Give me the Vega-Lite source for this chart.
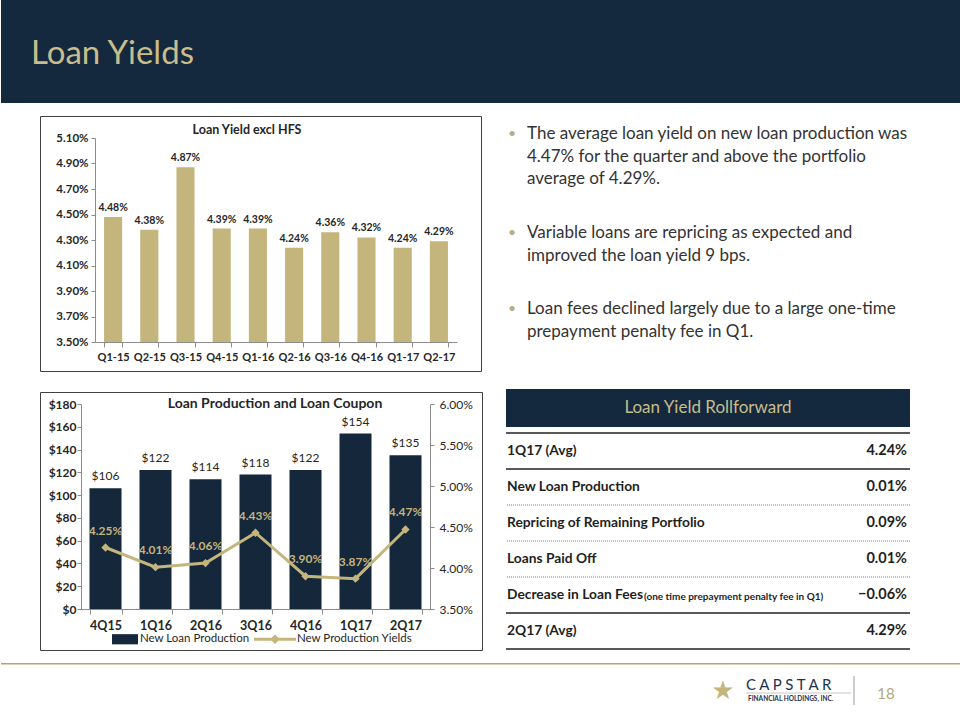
{
  "$schema": "https://vega.github.io/schema/vega-lite/v6.json",
  "padding": 0,
  "background": "#ffffff",
  "config": {"font": "Lato", "view": {"stroke": null}, "axis": {"labelOverlap": false}},
  "spacing": 12,
  "resolve": {"scale": {"color": "independent"}, "legend": {"color": "independent"}},
  "vconcat": [
    {
      "width": 960, "height": 103,
      "view": {"fill": "#14293e", "stroke": null},
      "data": {"values": [{"t": "Loan Yields"}]},
      "mark": {"type": "text", "align": "left", "baseline": "alphabetic", "fontSize": 33, "color": "#c9bd8c"},
      "encoding": {"text": {"field": "t", "type": "nominal"}, "x": {"value": 30}, "y": {"value": 64}}
    },
    {
      "spacing": 22,
      "resolve": {"scale": {"color": "independent"}, "legend": {"color": "independent"}},
      "hconcat": [
        {
          "width": 16, "height": 1,
          "data": {"values": []},
          "mark": "point",
          "encoding": {}
        },
        {
          "spacing": 19,
          "resolve": {"scale": {"color": "independent"}, "legend": {"color": "independent"}},
          "vconcat": [
            {
              "width": 441, "height": 255,
              "view": {"stroke": "#404040", "strokeWidth": 1},
              "layer": [
                {
                  "data": {"values": [{"t": "Loan Yield excl HFS"}]},
                  "mark": {"type": "text", "fontSize": 12.5, "fontWeight": "bold", "color": "#262626", "align": "center", "baseline": "middle"},
                  "encoding": {"text": {"field": "t", "type": "nominal"}, "x": {"value": 207}, "y": {"value": 14}}
                },
                {
                  "data": {"values": [
                    {"q": "Q1-15", "v": 0.0448}, {"q": "Q2-15", "v": 0.0438}, {"q": "Q3-15", "v": 0.0487},
                    {"q": "Q4-15", "v": 0.0439}, {"q": "Q1-16", "v": 0.0439}, {"q": "Q2-16", "v": 0.0424},
                    {"q": "Q3-16", "v": 0.0436}, {"q": "Q4-16", "v": 0.0432}, {"q": "Q1-17", "v": 0.0424},
                    {"q": "Q2-17", "v": 0.0429}
                  ]},
                  "encoding": {
                    "x": {"field": "q", "type": "nominal", "sort": null,
                      "scale": {"range": [55, 417], "paddingInner": 0.5, "paddingOuter": 0.25},
                      "axis": {"orient": "bottom", "offset": -29, "title": null, "labelAngle": 0, "labelFontWeight": "bold", "labelFontSize": 11, "labelColor": "#262626", "domainColor": "#8c8c8c", "tickColor": "#8c8c8c", "tickSize": 5, "tickBand": "extent", "labelPadding": 4, "labelOverlap": false}},
                    "y": {"field": "v", "type": "quantitative",
                      "scale": {"domain": [0.035, 0.051], "range": [226, 22], "zero": false, "nice": false},
                      "axis": {"orient": "left", "offset": -55, "title": null, "grid": false, "values": [0.035, 0.037, 0.039, 0.041, 0.043, 0.045, 0.047, 0.049, 0.051], "format": ".2%", "labelFontWeight": "bold", "labelFontSize": 11.5, "labelColor": "#262626", "domainColor": "#8c8c8c", "tickColor": "#8c8c8c", "tickSize": 4, "labelPadding": 3, "labelFlush": false, "labelOverlap": false}}
                  },
                  "layer": [
                    {
                      "mark": {"type": "bar", "color": "#c4b57d"},
                      "encoding": {"y2": {"datum": 0.035}}
                    },
                    {
                      "mark": {"type": "text", "baseline": "bottom", "dy": -4, "fontWeight": "bold", "fontSize": 10.5, "color": "#262626"},
                      "encoding": {"text": {"field": "v", "type": "quantitative", "format": ".2%"}}
                    }
                  ]
                }
              ]
            },
            {
              "width": 442, "height": 258,
              "view": {"stroke": "#404040", "strokeWidth": 1},
              "layer": [
                {
                  "data": {"values": [{"t": "Loan Production and Loan Coupon"}]},
                  "mark": {"type": "text", "fontSize": 14, "fontWeight": "bold", "color": "#262626", "align": "center", "baseline": "middle"},
                  "encoding": {"text": {"field": "t", "type": "nominal"}, "x": {"value": 235}, "y": {"value": 12}}
                },
                {
                  "data": {"name": "prod"},
                  "encoding": {
                    "x": {"field": "q", "type": "nominal", "sort": null,
                      "scale": {"range": [41, 390], "paddingInner": 0.36, "paddingOuter": 0.17},
                      "axis": {"orient": "bottom", "offset": -41, "title": null, "labelAngle": 0, "labelFontWeight": "bold", "labelFontSize": 12.5, "labelColor": "#262626", "domainColor": "#8c8c8c", "tickColor": "#8c8c8c", "tickSize": 5, "tickBand": "extent", "labelPadding": 5, "labelOverlap": false}},
                    "y": {"field": "prod", "type": "quantitative",
                      "scale": {"domain": [0, 180], "range": [217, 12], "zero": false, "nice": false},
                      "axis": {"orient": "left", "offset": -41, "title": null, "grid": false, "values": [0, 20, 40, 60, 80, 100, 120, 140, 160, 180], "format": "$.0f", "labelFontWeight": "bold", "labelFontSize": 12, "labelColor": "#262626", "domainColor": "#8c8c8c", "tickColor": "#8c8c8c", "tickSize": 4, "labelPadding": 1, "labelFlush": false, "labelOverlap": false}}
                  },
                  "layer": [
                    {
                      "mark": {"type": "bar"},
                      "encoding": {
                        "color": {"datum": "New Loan Production", "type": "nominal",
                          "scale": {"domain": ["New Loan Production", "New Production Yields"], "range": ["#14273b", "#c4b57d"]},
                          "legend": {"orient": "none", "legendX": 72, "legendY": 241, "direction": "horizontal", "title": null, "labelFontSize": 11.5, "labelColor": "#262626", "symbolSize": 144, "labelOffset": 16, "columnPadding": 4, "symbolStrokeWidth": 0,
                            "encode": {
                              "symbols": {"update": {
                                "shape": {"signal": "datum.value === 'New Loan Production' ? 'M-1,-0.85H3.33V0.85H-1Z' : 'M-1,-0.25H6V0.25H-1Z M2.5,-0.8L3.3,0L2.5,0.8L1.7,0Z'"},
                                "fill": {"signal": "datum.value === 'New Loan Production' ? '#14273b' : '#c4b57d'"},
                                "strokeWidth": {"value": 0}
                              }},
                              "labels": {"update": {"dx": {"signal": "datum.value === 'New Loan Production' ? 0 : 15"}}}
                            }}}
                      }
                    },
                    {
                      "mark": {"type": "text", "baseline": "bottom", "dy": -5, "fontSize": 12, "color": "#262626"},
                      "encoding": {"text": {"field": "prod", "type": "quantitative", "format": "$.0f"}}
                    }
                  ]
                },
                {
                  "data": {"name": "prod"},
                  "encoding": {
                    "x": {"field": "q", "type": "nominal", "sort": null},
                    "y": {"field": "yld", "type": "quantitative",
                      "scale": {"domain": [0.035, 0.06], "range": [217, 12], "zero": false, "nice": false},
                      "axis": {"orient": "right", "offset": -52, "title": null, "grid": false, "values": [0.035, 0.04, 0.045, 0.05, 0.055, 0.06], "format": ".2%", "labelFontSize": 12, "labelColor": "#262626", "domainColor": "#8c8c8c", "tickColor": "#8c8c8c", "tickSize": 4, "labelPadding": 5, "labelFlush": false, "labelOverlap": false}}
                  },
                  "layer": [
                    {
                      "mark": {"type": "line", "strokeWidth": 3, "point": {"shape": "diamond", "size": 70, "filled": true}},
                      "encoding": {"color": {"datum": "New Production Yields", "type": "nominal"}}
                    },
                    {
                      "mark": {"type": "text", "baseline": "bottom", "dy": -10, "fontWeight": "bold", "fontSize": 12, "color": "#c4b57d"},
                      "encoding": {"text": {"field": "yld", "type": "quantitative", "format": ".2%"}}
                    }
                  ]
                }
              ],
              "resolve": {"scale": {"y": "independent"}}
            }
          ]
        },
        {
          "spacing": 0,
          "vconcat": [
            {
              "width": 416, "height": 273,
              "data": {"values": [
                {"b": 1, "lines": ["The average loan yield on new loan production was", "4.47% for the quarter and above the portfolio", "average of 4.29%."], "dot": "•"},
                {"b": 2, "lines": ["Variable loans are repricing as expected and", "improved the loan yield 9 bps."], "dot": "•"},
                {"b": 3, "lines": ["Loan fees declined largely due to a large one-time", "prepayment penalty fee in Q1."], "dot": "•"}
              ]},
              "layer": [
                {
                  "mark": {"type": "text", "align": "left", "baseline": "middle", "fontSize": 17, "lineHeight": 22.5, "color": "#333333"},
                  "encoding": {
                    "x": {"value": 21},
                    "y": {"field": "b", "type": "quantitative", "scale": {"type": "sqrt", "domain": [1, 3], "range": [18, 193], "zero": false, "nice": false}, "axis": null},
                    "text": {"field": "lines", "type": "nominal"}
                  }
                },
                {
                  "mark": {"type": "text", "align": "left", "baseline": "middle", "fontSize": 14, "color": "#b9ad82"},
                  "encoding": {
                    "x": {"value": 2},
                    "y": {"field": "b", "type": "quantitative"},
                    "text": {"field": "dot", "type": "nominal"}
                  }
                }
              ]
            },
            {
              "width": 404, "height": 38,
              "view": {"fill": "#14293e", "stroke": null},
              "data": {"values": [{"t": "Loan Yield Rollforward"}]},
              "mark": {"type": "text", "align": "center", "baseline": "middle", "fontSize": 17, "color": "#c9bd8c"},
              "encoding": {"text": {"field": "t", "type": "nominal"}, "x": {"value": 202}, "y": {"value": 19}}
            },
            {
              "width": 404, "height": 222,
              "data": {"values": [
                {"item": "1Q17 (Avg)", "note": "", "val": 0.0424},
                {"item": "New Loan Production", "note": "", "val": 0.0001},
                {"item": "Repricing of Remaining Portfolio", "note": "", "val": 0.0009},
                {"item": "Loans Paid Off", "note": "", "val": 0.0001},
                {"item": "Decrease in Loan Fees", "note": "(one time prepayment penalty fee in Q1)", "val": -0.0006},
                {"item": "2Q17 (Avg)", "note": "", "val": 0.0429}
              ]},
              "encoding": {
                "y": {"field": "item", "type": "nominal", "sort": null,
                  "scale": {"type": "band", "domain": ["1Q17 (Avg)", "New Loan Production", "Repricing of Remaining Portfolio", "Loans Paid Off", "Decrease in Loan Fees", "2Q17 (Avg)"], "range": [6, 222], "paddingInner": 0, "paddingOuter": 0},
                  "axis": null}
              },
              "layer": [
                {
                  "transform": [{"filter": {"field": "item", "oneOf": ["1Q17 (Avg)", "New Loan Production", "2Q17 (Avg)"]}}],
                  "mark": {"type": "rule", "color": "#595959", "strokeWidth": 2},
                  "encoding": {"y": {"field": "item", "type": "nominal", "sort": null, "bandPosition": 0}}
                },
                {
                  "transform": [{"filter": {"field": "item", "equal": "2Q17 (Avg)"}}],
                  "mark": {"type": "rule", "color": "#595959", "strokeWidth": 2},
                  "encoding": {"y": {"field": "item", "type": "nominal", "sort": null, "bandPosition": 1}}
                },
                {
                  "transform": [{"filter": {"field": "item", "oneOf": ["Repricing of Remaining Portfolio", "Loans Paid Off", "Decrease in Loan Fees"]}}],
                  "mark": {"type": "rule", "color": "#7f7f7f", "strokeWidth": 1, "strokeDash": [1, 1]},
                  "encoding": {"y": {"field": "item", "type": "nominal", "sort": null, "bandPosition": 0}}
                },
                {
                  "mark": {"type": "text", "align": "left", "baseline": "middle", "fontSize": 13.8, "fontWeight": "bold", "color": "#1f1f1f"},
                  "encoding": {"x": {"value": 1}, "text": {"field": "item", "type": "nominal"}}
                },
                {
                  "transform": [{"filter": "datum.note != ''"}],
                  "mark": {"type": "text", "align": "left", "baseline": "middle", "dy": 2, "fontSize": 10, "fontWeight": "bold", "color": "#1f1f1f"},
                  "encoding": {"x": {"value": 138}, "text": {"field": "note", "type": "nominal"}}
                },
                {
                  "mark": {"type": "text", "align": "right", "baseline": "middle", "fontSize": 14.5, "fontWeight": "bold", "color": "#1f1f1f"},
                  "encoding": {"x": {"value": 401}, "text": {"field": "val", "type": "quantitative", "format": ".2%"}}
                }
              ]
            }
          ]
        }
      ]
    },
    {
      "width": 960, "height": 59,
      "data": {"values": [{"brand": "C A P S T A R", "sub": "FINANCIAL HOLDINGS, INC.", "page": "18", "star": "★"}]},
      "layer": [
        {"mark": {"type": "rule", "color": "#b0a571", "strokeWidth": 1.5}, "encoding": {"x": {"value": 0}, "x2": {"value": 960}, "y": {"value": 0.75}}},
        {"mark": {"type": "text", "align": "center", "baseline": "middle", "font": "DejaVu Sans", "fontSize": 26, "color": "#c4b57d"}, "encoding": {"x": {"value": 722}, "y": {"value": 28}, "text": {"field": "star", "type": "nominal"}}},
        {"mark": {"type": "text", "align": "left", "baseline": "middle", "fontSize": 15, "color": "#1e3250"}, "encoding": {"x": {"value": 745}, "y": {"value": 22}, "text": {"field": "brand", "type": "nominal"}}},
        {"mark": {"type": "rule", "color": "#b0b0b0", "strokeWidth": 0.7}, "encoding": {"x": {"value": 745}, "x2": {"value": 850}, "y": {"value": 30}}},
        {"mark": {"type": "text", "align": "left", "baseline": "middle", "fontSize": 6.5, "fontWeight": "bold", "color": "#1e3250"}, "encoding": {"x": {"value": 747}, "y": {"value": 36}, "text": {"field": "sub", "type": "nominal"}}},
        {"mark": {"type": "rule", "color": "#9a9a9a", "strokeWidth": 1}, "encoding": {"x": {"value": 853}, "y": {"value": 13}, "y2": {"value": 42}}},
        {"mark": {"type": "text", "align": "center", "baseline": "middle", "fontSize": 15, "color": "#b5a876"}, "encoding": {"x": {"value": 885}, "y": {"value": 31}, "text": {"field": "page", "type": "nominal"}}}
      ]
    }
  ],
  "datasets": {
    "prod": [
      {"q": "4Q15", "prod": 106, "yld": 0.0425},
      {"q": "1Q16", "prod": 122, "yld": 0.0401},
      {"q": "2Q16", "prod": 114, "yld": 0.0406},
      {"q": "3Q16", "prod": 118, "yld": 0.0443},
      {"q": "4Q16", "prod": 122, "yld": 0.0390},
      {"q": "1Q17", "prod": 154, "yld": 0.0387},
      {"q": "2Q17", "prod": 135, "yld": 0.0447}
    ]
  }
}
